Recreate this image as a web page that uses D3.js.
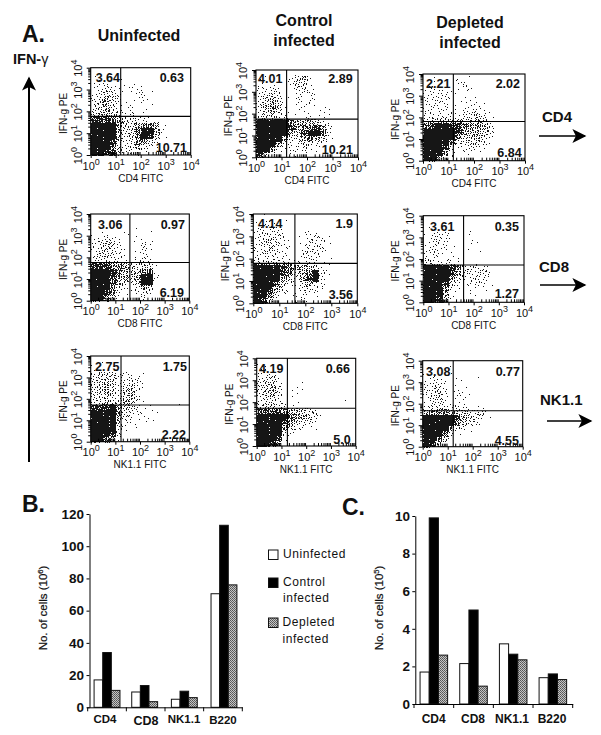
<!DOCTYPE html>
<html><head><meta charset="utf-8">
<script src="https://cdn.jsdelivr.net/npm/d3@7"></script>
<style>
html,body{margin:0;padding:0;background:#fff}
svg{display:block}
text{font-family:"Liberation Sans",Arial,sans-serif;fill:#111}
</style></head><body><div id="chart"></div>
<script>
// ---------- DATA ----------
const groups = ["Uninfected", "Control infected", "Depleted infected"];
const cellTypes = ["CD4", "CD8", "NK1.1", "B220"];
const spleenUninfected = [17, 9.5, 5, 70.5];
const spleenControl = [34, 13.5, 10, 113];
const spleenDepleted = [10.5, 3.5, 6, 76];
const otherUninfected = [1.7, 2.15, 3.2, 1.4];
const otherControl = [9.9, 5.0, 2.65, 1.6];
const otherDepleted = [2.6, 0.95, 2.35, 1.3];
const flowMarkers = ["CD4", "CD4", "CD4", "CD8", "CD8", "CD8", "NK1.1", "NK1.1", "NK1.1"];
const quadTopLeft = ["3.64", "4.01", "2.21", "3.06", "4.14", "3.61", "2.75", "4.19", "3.08"];
const quadTopRight = ["0.63", "2.89", "2.02", "0.97", "1.9", "0.35", "1.75", "0.66", "0.77"];
const quadBottomRight = ["10.71", "10.21", "6.84", "6.19", "3.56", "1.27", "2.22", "5.0", "4.55"];
const gateLogX = [1.2, 1.2, 1.19, 1.59, 1.6, 1.6, 1.23, 1.24, 1.22];
const gateLogY = [1.77, 1.75, 1.81, 1.76, 1.79, 1.72, 1.71, 1.72, 1.67];
// Event density: 16 x 16 cells (quarter decades), top row first, level 0-9.
const dUninfCD4 = ["0000000000000000","1000000000000000","1110100000000000","1232112110000000","1343201221000000","2354201120000000","3453211011000000","3453202010000000","4554323110000000","8887543321000000","9999643567510000","9999534799520000","9999434798410000","9998323663200000","9997423522100000","9988322210000000"];
const dCtrlCD4 = ["0000000000000000","1100024510000000","1111024410000000","2232012410000000","2342012121000000","2453102121000000","3564101211100000","2454101111110000","3443201121110000","9999975554210000","9999985678620000","9999954799720000","9999533575410000","9995322432100000","9962122311000000","8411011100000000"];
const dDeplCD4 = ["0100010100000000","1100022000000000","1211012100000000","2222111000000000","2232111110000000","2222101121000000","2222112221000000","2222213342100000","3444443454100000","7899887665310000","9999985554310000","9999964454200000","9999733443100000","9998312321000000","9996201110000000","9952100000000000"];
const dUninfCD8 = ["0000000000000000","0000000000000000","0000000100000000","1110011001000000","1232100111000000","2344200131000000","2343210131000000","1443210121000000","2232211132000000","8886654344100000","9998754467100000","9998654599200000","9997543499100000","9996321264000000","9986210232000000","9963100121000000"];
const dCtrlCD8 = ["0100000000000000","1211100000000000","1222100000000000","2333200122000000","2343210123310000","2343210133210000","2343110233210000","2222210232110000","3333322132110000","9999876554110000","9999873569310000","9999642589200000","9997421353200000","9985311233100000","9973102211000000","9840001110000000"];
const dDeplCD8 = ["0000000000000000","0000000000000000","1100000100000000","1232000100000000","1232100110000000","1222100100000000","2321100110000000","2211110000000000","3322210010000000","9999873322100000","9999853233200000","9999632232100000","9998421232100000","9996210111000000","9995100110000000","9984100000000000"];
const dUninfNK = ["0000000000000000","1100000000000000","1100000000000000","3444222110000000","3444223310000000","3454234210000000","3454245200000000","3343235300000000","3344354210000010","8889643311000000","9999633211100000","9999532111100000","9999421110000000","9999310100000000","9998300000000000","9975100000000000"];
const dCtrlNK = ["0000000000000000","2100000000000000","2210000000000000","2341000000000000","3442000100000000","3453011100000000","3453011000000000","2332000000000010","3443211000000000","7777655432000000","9999976543100000","9999864331000000","9999642211000000","9999320000000000","9998200000000000","9985000000000000"];
const dDeplNK = ["0000000000000000","1100100000000000","1100100000000000","1221011010000000","2331011000000000","2342021000000000","2342021100000000","1332011000000000","2333232111000000","5666444333000000","9999985432100000","9999964321000000","9999632100000000","9997210100000000","9974000000000000","9841000000000000"];
const densities = [dUninfCD4, dCtrlCD4, dDeplCD4, dUninfCD8, dCtrlCD8, dDeplCD8, dUninfNK, dCtrlNK, dDeplNK];

// ---------- LAYOUT ----------
const boxes = [[90.7,190.7,67.7,155],[256,358,70,157.3],[423,525,74,160.7],
               [90.7,189.3,214,300.7],[253.3,357.3,214,303.3],[423.3,524,215.7,302.3],
               [90.7,189.3,356,441.7],[256.7,355.7,358.3,446],[422.7,522.7,360.7,446.7]];
// [top-left x, top-right end x, top baseline, bottom-right end x, bottom baseline]
const quadPos = [[95.7,184,82,187,152],[258,352.7,83,353,154],[426,520,88,521.7,157],
                 [98,185,229,184,297],[258,353,228,353,299],[430,519,231,519,298],
                 [95,187,371,186,439],[259,350,373,350.7,444],[426,520,376,519,445]];
const levelDots = [0,1,3,5,8,12,17,24,34,64];

const svg = d3.select("#chart").append("svg").attr("width",601).attr("height",735).attr("viewBox","0 0 601 735");
svg.append("rect").attr("width",601).attr("height",735).attr("fill","#fff");
const defs = svg.append("defs");
const pat = defs.append("pattern").attr("id","dither").attr("width",2).attr("height",2).attr("patternUnits","userSpaceOnUse");
pat.append("rect").attr("width",2).attr("height",2).attr("fill","#c4c4c4");
pat.append("rect").attr("width",1).attr("height",1).attr("fill","#555");
pat.append("rect").attr("x",1).attr("y",1).attr("width",1).attr("height",1).attr("fill","#666");
const mk = defs.append("marker").attr("id","ah").attr("viewBox","0 0 10 10").attr("refX",9).attr("refY",5)
  .attr("markerUnits","userSpaceOnUse").attr("markerWidth",15).attr("markerHeight",14).attr("orient","auto");
mk.append("path").attr("d","M0,0 L10,5 L0,10 L2.5,5 Z").attr("fill","#000");

function txt(x,y,s,size,weight,anchor){
  return svg.append("text").attr("x",x).attr("y",y).attr("font-size",size)
    .attr("font-weight",weight||"normal").attr("text-anchor",anchor||"start").text(s);
}
function arrow(x1,y1,x2,y2,w){
  svg.append("line").attr("x1",x1).attr("y1",y1).attr("x2",x2).attr("y2",y2)
    .attr("stroke","#000").attr("stroke-width",w||1.6).attr("marker-end","url(#ah)");
}

// ---------- FLOW PLOTS ----------
const powers = d3.range(0,5);
const allTicks = [];
powers.forEach(k=>{ (k<4?d3.range(1,10):[1]).forEach(m=>allTicks.push(m*Math.pow(10,k))); });
const isMajor = v => Math.abs(Math.log10(v)-Math.round(Math.log10(v)))<1e-9;
let seq = 0;

densities.forEach((grid,p)=>{
  const [x0,x1,y0,y1] = boxes[p];
  const x = d3.scaleLog().domain([1,1e4]).range([x0,x1]);
  const y = d3.scaleLog().domain([1,1e4]).range([y1,y0]);
  const g = svg.append("g").attr("class","flow");

  // dots from density cells
  const pts = [];
  grid.forEach((row,r)=>{
    row.split("").forEach((ch,c)=>{
      const n = levelDots[+ch];
      for(let i=0;i<n;i++){
        seq++;
        const fx = (seq*0.7548776662)%1, fy = (seq*0.5698402910)%1;
        pts.push({vx:Math.pow(10,(c+fx)/4), vy:Math.pow(10,(15-r+fy)/4)});
      }
    });
  });
  g.append("g").selectAll("rect").data(pts).join("rect")
    .attr("x",d=>Math.round(x(d.vx))).attr("y",d=>Math.round(y(d.vy)))
    .attr("width",1).attr("height",1).attr("fill","#161616");

  // frame + gates
  g.append("rect").attr("x",x0).attr("y",y0).attr("width",x1-x0).attr("height",y1-y0)
    .attr("fill","none").attr("stroke","#000").attr("stroke-width",1.1);
  const gx = Math.pow(10,gateLogX[p]), gy = Math.pow(10,gateLogY[p]);
  g.append("line").attr("x1",x(gx)).attr("x2",x(gx)).attr("y1",y0).attr("y2",y1).attr("stroke","#000").attr("stroke-width",1.1);
  g.append("line").attr("x1",x0).attr("x2",x1).attr("y1",y(gy)).attr("y2",y(gy)).attr("stroke","#000").attr("stroke-width",1.1);

  // axes
  const ax = g.append("g").attr("transform",`translate(0,${y1})`)
    .call(d3.axisBottom(x).tickValues(allTicks).tickFormat("").tickSizeOuter(0));
  ax.select(".domain").remove();
  ax.selectAll(".tick").each(function(v){
    const t = d3.select(this);
    t.select("line").attr("y2",isMajor(v)?3:-3).attr("stroke","#000");
    t.select("text").remove();
    if(isMajor(v)){
      const lab = t.append("text").attr("y",14.5).attr("text-anchor","middle").attr("font-size",11).attr("fill","#111");
      lab.append("tspan").text("10");
      lab.append("tspan").attr("dy",-5).attr("font-size",9).text(Math.round(Math.log10(v)));
    }
  });
  const ay = g.append("g").attr("transform",`translate(${x0},0)`)
    .call(d3.axisLeft(y).tickValues(allTicks).tickFormat("").tickSizeOuter(0));
  ay.select(".domain").remove();
  ay.selectAll(".tick").each(function(v){
    const t = d3.select(this);
    t.select("line").attr("x2",isMajor(v)?-4:-2.5).attr("stroke","#000");
    t.select("text").remove();
    if(isMajor(v)){
      const lab = t.append("text").attr("transform","translate(-9,0) rotate(-90)").attr("text-anchor","middle").attr("font-size",11).attr("fill","#111");
      lab.append("tspan").text("10");
      lab.append("tspan").attr("dy",-5).attr("font-size",9).text(Math.round(Math.log10(v)));
    }
  });

  g.append("text").attr("transform",`translate(${x0-24},${(y0+y1)/2+2}) rotate(-90)`).attr("text-anchor","middle")
    .attr("font-size",10).text("IFN-g PE");
  g.append("text").attr("x",(x0+x1)/2).attr("y",y1+26.5).attr("text-anchor","middle").attr("font-size",10)
    .text(flowMarkers[p]+" FITC");

  // percentages
  const q = quadPos[p];
  txt(q[0],q[2],quadTopLeft[p],12.5,"bold");
  txt(q[1],q[2],quadTopRight[p],12.5,"bold","end");
  txt(q[3],q[4],quadBottomRight[p],12.5,"bold","end");
});

// ---------- HEADINGS ----------
txt(22,42,"A.",23,"bold");
txt(139,41,groups[0],16,"bold","middle");
txt(304,26,"Control",16,"bold","middle");
txt(304,46,"infected",16,"bold","middle");
txt(470,28,"Depleted",16,"bold","middle");
txt(470,48,"infected",16,"bold","middle");
const ifn = txt(13,64,"IFN-",14.5,"bold");
ifn.append("tspan").attr("font-weight","normal").text("γ");
arrow(29,462,29,78,2);
txt(542,122,"CD4",15,"bold"); arrow(539,136,585,136);
txt(539,272,"CD8",15,"bold"); arrow(540,285,585,285);
txt(540,405,"NK1.1",15,"bold"); arrow(547,421,591,421);

// ---------- BAR CHARTS ----------
function bars(cfg){
  const {left,right,bottom,top,ymax,step,vals,axisX,yTitle,sup,titleX,labelEnd,labelX,labelY,labelSize,inner} = cfg;
  const x = d3.scaleBand().domain(cellTypes).range([left,right]).paddingInner(0).paddingOuter(0);
  const y = d3.scaleLinear().domain([0,ymax]).range([bottom,top]);
  const s = d3.scaleBand().domain(groups).range([0,x.bandwidth()]).paddingOuter(inner);
  const fills = ["#fff","#000","url(#dither)"];
  const g = svg.append("g").attr("class","bars");
  groups.forEach((gr,i)=>{
    g.append("g").selectAll("rect").data(cellTypes).join("rect")
      .attr("x",(d,j)=>x(d)+s(gr)+cfg.shift[j]).attr("width",s.bandwidth())
      .attr("y",(d,j)=>y(vals[i][j])).attr("height",(d,j)=>bottom-y(vals[i][j]))
      .attr("fill",fills[i]).attr("stroke","#111").attr("stroke-width",1);
  });
  const ax = g.append("g").attr("transform",`translate(0,${bottom})`)
    .call(d3.axisBottom(x).tickValues([]).tickSizeOuter(0));
  ax.select(".domain").attr("stroke","#000");
  x.domain().concat(["end"]).forEach((d,i)=>{
    const px = left+i*x.step();
    ax.append("line").attr("x1",px).attr("x2",px).attr("y1",0).attr("y2",4).attr("stroke","#000");
  });
  const ay = g.append("g").attr("transform",`translate(${axisX},0)`)
    .call(d3.axisLeft(y).tickValues(d3.range(0,ymax+1,step)).tickSize(3).tickSizeOuter(0));
  ay.select(".domain").attr("stroke","#000");
  ay.selectAll("text").attr("font-size",13.5).attr("font-weight","bold").attr("x",labelEnd-axisX).attr("fill","#111")
    .attr("font-family",'"Liberation Sans",Arial,sans-serif');
  ay.selectAll("line").attr("stroke","#000");
  cellTypes.forEach((c,i)=>{
    txt(labelX[i],labelY[i],c,labelSize[i],"bold","middle");
  });
  const yt = svg.append("text").attr("transform",`translate(${titleX},608) rotate(-90)`).attr("text-anchor","middle")
    .attr("font-size",11.5).attr("font-weight","normal").attr("stroke","#111").attr("stroke-width",0.2);
  yt.append("tspan").text(yTitle+" (10");
  yt.append("tspan").attr("dy",-4).attr("font-size",7.5).text(sup);
  yt.append("tspan").attr("dy",4).text(")");
}
bars({left:87.7,right:242.3,bottom:707.3,top:514,ymax:120,step:20,axisX:89.5,
  vals:[spleenUninfected,spleenControl,spleenDepleted],shift:[0,-1,0,1],inner:0.74,
  yTitle:"No. of cells",sup:"6",titleX:47,labelEnd:84,
  labelX:[105,146,184,223],labelY:[723,725,723,724],labelSize:[11.5,12.5,11.5,11.5]});
bars({left:414,right:572.7,bottom:704,top:516,ymax:10,step:2,axisX:415.3,
  vals:[otherUninfected,otherControl,otherDepleted],shift:[0,0,0,0],inner:0.66,
  yTitle:"No. of cells",sup:"5",titleX:383,labelEnd:410,
  labelX:[433.7,473,512,552],labelY:[723,723,723,723],labelSize:[12,12,12,12]});

txt(22,512,"B.",23,"bold");
txt(342,515,"C.",23,"bold");

// ---------- LEGEND ----------
const legendFill = ["#fff","#000","url(#dither)"];
const legendY = [550,578,618];
const legendLines = [[groups[0]],["Control","infected"],["Depleted","infected"]];
const legendBase = [[558],[586,602],[626,643]];
groups.forEach((gr,i)=>{
  svg.append("rect").attr("x",268.5).attr("y",legendY[i]).attr("width",9.5).attr("height",9.5)
    .attr("fill",legendFill[i]).attr("stroke","#111").attr("stroke-width",1);
  legendLines[i].forEach((l,j)=>{
    txt(283-(i===2?0.5:0),legendBase[i][j],l,12,"normal").attr("letter-spacing",0.55);
  });
});
</script></body></html>
